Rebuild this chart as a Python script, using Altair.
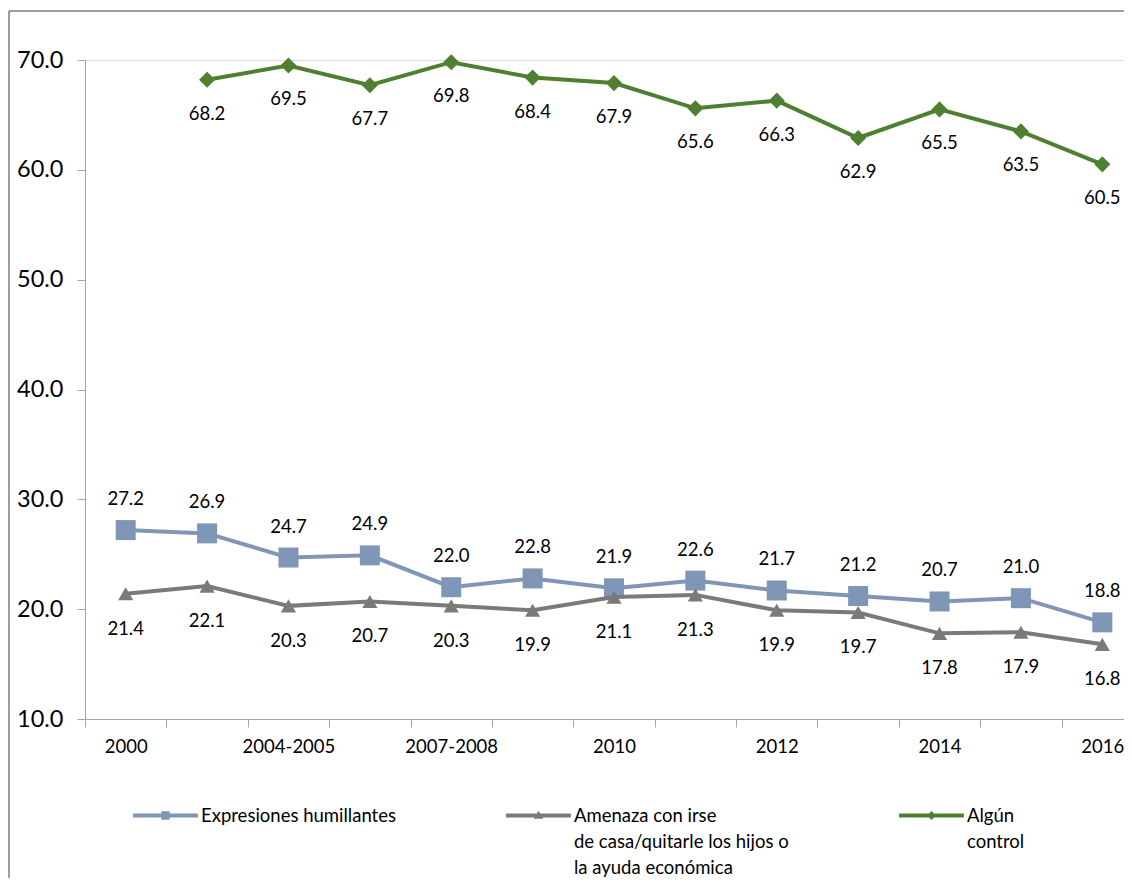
import altair as alt
import pandas as pd

years = ["2000", "2002", "2004-2005", "2006", "2007-2008", "2009", "2010",
         "2011", "2012", "2013", "2014", "2015", "2016"]
shown_labels = ["2000", "2004-2005", "2007-2008", "2010", "2012", "2014", "2016"]

expresiones = [27.2, 26.9, 24.7, 24.9, 22.0, 22.8, 21.9, 22.6, 21.7, 21.2, 20.7, 21.0, 18.8]
amenaza = [21.4, 22.1, 20.3, 20.7, 20.3, 19.9, 21.1, 21.3, 19.9, 19.7, 17.8, 17.9, 16.8]
control = [None, 68.2, 69.5, 67.7, 69.8, 68.4, 67.9, 65.6, 66.3, 62.9, 65.5, 63.5, 60.5]

series_names = ["Expresiones humillantes||",
                "Amenaza con irse|\u00a0de casa/quitarle los hijos o|la ayuda económica",
                "Algún|control|"]
colors = ["#7F96B6", "#7A7A7A", "#4F7F30"]
shapes = ["square", "triangle-up", "diamond"]
sizes = [400, 230, 260]
label_dy = [-31, 35, 34]

FONT = "Lato"
W, H = 1039, 659
RANGE_W = 1058

rows = []
for name, vals in zip(series_names, [expresiones, amenaza, control]):
    for y, v in zip(years, vals):
        if v is not None:
            rows.append({"year": y, "serie": name, "value": v})
df = pd.DataFrame(rows)

xenc = alt.X("year:N", sort=years,
             scale=alt.Scale(type="band", domain=years, paddingInner=0, paddingOuter=0,
                             range=[0, RANGE_W]),
             axis=alt.Axis(title=None, labelAngle=0, tickBand="extent",
                           labelExpr="indexof(" + str(shown_labels) + ", datum.value) >= 0 ? datum.value : ''",
                           labelFontSize=18.5, labelFont=FONT, labelColor="#000000",
                           labelPadding=10, tickSize=8, domainColor="#A6A6A6",
                           tickColor="#A6A6A6", grid=False))
yenc = alt.Y("value:Q", scale=alt.Scale(domain=[10, 70], nice=False, zero=False),
             axis=alt.Axis(title=None, values=[10, 20, 30, 40, 50, 60, 70], format=".1f",
                           labelFontSize=23.5, labelFont=FONT, labelColor="#000000",
                           labelPadding=14, tickSize=8, domainColor="#A6A6A6",
                           tickColor="#A6A6A6", grid=False))

layers = []
frame = alt.Chart(pd.DataFrame({"a": [0]})).mark_rect(
    filled=False, stroke="#404040", strokeWidth=1
).encode(x=alt.value(-76), x2=alt.value(W + 200), y=alt.value(-49), y2=alt.value(H + 400))
layers.append(frame)

for name, col, shp, sz, dy in zip(series_names, colors, shapes, sizes, label_dy):
    base = alt.Chart(df).transform_filter(alt.datum.serie == name)
    layers.append(base.mark_line(color=col, strokeWidth=4).encode(x=xenc, y=yenc))
    layers.append(base.mark_point(filled=True, opacity=1, color=col, shape=shp, size=sz)
                  .encode(x=xenc, y=yenc))
    layers.append(base.mark_text(dy=dy, fontSize=18.5, font=FONT, color="#000000")
                  .encode(x=xenc, y=yenc, text=alt.Text("value:Q", format=".1f")))

# legend symbol paths: line + marker (units are half the symbol width)
leg_paths = [
    "M-1,-0.06H1V0.06H-1Z M-0.13,-0.13H0.13V0.13H-0.13Z",
    "M-1,-0.06H1V0.06H-1Z M0,-0.15L0.15,0.1L-0.15,0.1Z",
    "M-1,-0.06H1V0.06H-1Z M0,-0.14L0.14,0L0,0.14L-0.14,0Z",
]
leg = alt.Legend(title=None, orient="none", legendX=48, legendY=723,
                 direction="horizontal", columns=3, columnPadding=110,
                 symbolSize=4200, labelFontSize=18.5, labelFont=FONT,
                 labelColor="#000000", labelLimit=500, labelOffset=3,
                 labelExpr="split(datum.label, '|')",
                 symbolOpacity=1, symbolStrokeWidth=0)
legend_layer = alt.Chart(df).transform_filter(alt.datum.value < -1000).mark_point(
    filled=True, opacity=1
).encode(
    x=xenc, y=yenc,
    color=alt.Color("serie:N", scale=alt.Scale(domain=series_names, range=colors), legend=leg),
    shape=alt.Shape("serie:N", scale=alt.Scale(domain=series_names, range=leg_paths), legend=leg),
)
layers.append(legend_layer)

chart = alt.layer(*layers).properties(
    width=W, height=H,
    autosize=alt.AutoSizeParams(type="none"),
    padding={"left": 77, "top": 52, "right": 0, "bottom": 159},
).configure_view(stroke=None).configure(style={"guide-label": {"lineHeight": 26}})

chart.save("out.html", embed_options={"renderer": "svg", "actions": False})
